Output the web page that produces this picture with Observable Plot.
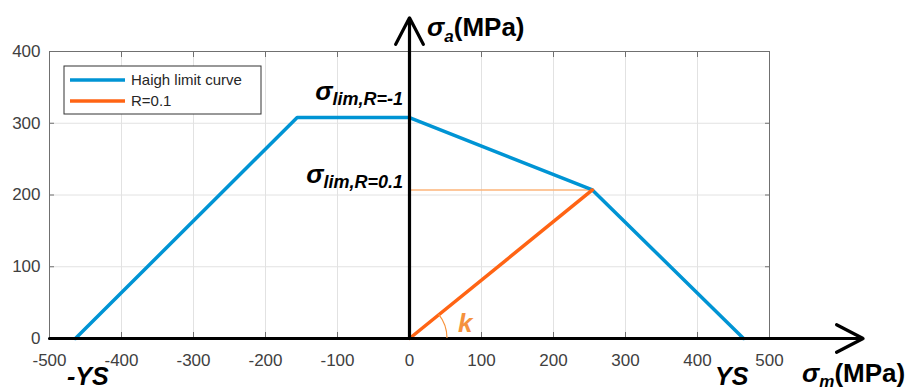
<!DOCTYPE html>
<html><head><meta charset="utf-8">
<script src="https://cdn.jsdelivr.net/npm/d3@7"></script>
<script src="https://cdn.jsdelivr.net/npm/@observablehq/plot@0.6"></script>
<style>body{margin:0;background:#fff} svg{display:block}</style>
</head><body><div id="chart"></div>
<script>
const xTicks = [-500,-400,-300,-200,-100,0,100,200,300,400,500];
const yTicks = [0,100,200,300,400];
const haighSigmaM = [-464,-156,0,254,464];
const haighSigmaA = [0,308,308,207,0];
const rSigmaM = [0,254];
const rSigmaA = [0,207];
const seriesNames = ["Haigh limit curve","R=0.1"];
const colors = ["#0094d4","#ff6414"];

const haigh = haighSigmaM.map((x,i)=>({x, y: haighSigmaA[i]}));
const rline = rSigmaM.map((x,i)=>({x, y: rSigmaA[i]}));
const font = "'Liberation Sans', Arial, sans-serif";
const fmt = d => String(d);

const plot = Plot.plot({
  width: 912, height: 391,
  marginLeft: 49, marginRight: 143, marginTop: 51, marginBottom: 53,
  style: {fontFamily: font, background: "white", overflow: "visible"},
  x: {domain: [-500,500]},
  y: {domain: [0,400]},
  marks: [
    Plot.gridX({ticks: xTicks, stroke:"#e2e2e2", strokeOpacity:1}),
    Plot.gridY({ticks: yTicks, stroke:"#e2e2e2", strokeOpacity:1}),
    Plot.frame({stroke:"#707070"}),
    Plot.axisX({ticks: xTicks, anchor:"top", tickSize:-5, tickFormat:()=>"", label:null, color:"#707070"}),
    Plot.axisX({ticks: xTicks, anchor:"bottom", tickSize:-6, tickFormat:()=>"", label:null, color:"#707070"}),
    Plot.axisY({ticks: yTicks, anchor:"right", tickSize:-5, tickFormat:()=>"", label:null, color:"#707070"}),
    Plot.axisY({ticks: yTicks, anchor:"left", tickSize:-5, tickFormat:()=>"", label:null, color:"#707070"}),
    Plot.axisX({ticks: xTicks, anchor:"bottom", tickSize:0, tickPadding:15, tickFormat: fmt, label:null, fontSize:17, color:"#404040"}),
    Plot.axisY({ticks: yTicks, anchor:"left", tickSize:0, tickPadding:9, tickFormat: fmt, label:null, fontSize:17, color:"#404040"}),
    Plot.ruleY(rline.slice(1), {y:"y", x1:0, x2:"x", stroke:"#fdb47a", strokeWidth:1.3}),
    Plot.line(haigh, {x:"x", y:"y", stroke: colors[0], strokeWidth:3.5}),
    Plot.line(rline, {x:"x", y:"y", stroke: colors[1], strokeWidth:3.5}),
    Plot.arrow([0], {x1:-500, y1:0, x2:630, y2:0, stroke:"black", strokeWidth:3.2, headLength:14, headAngle:55}),
    Plot.arrow([0], {x1:0, y1:0, x2:0, y2:447, stroke:"black", strokeWidth:3.2, headLength:14, headAngle:55})
  ]
});
document.getElementById("chart").appendChild(plot);

const svg = d3.select(plot);
const xs = plot.scale("x"), ys = plot.scale("y");
const x0 = xs.apply(0), y0 = ys.apply(0);

// angle arc k
const ang = Math.atan2(y0 - ys.apply(rSigmaA[1]), xs.apply(rSigmaM[1]) - x0);
const r = 38;
svg.append("path")
  .attr("d", `M${x0 + r},${y0} A${r},${r} 0 0 0 ${x0 + r*Math.cos(ang)},${y0 - r*Math.sin(ang)}`)
  .attr("fill","none").attr("stroke","#f7923a").attr("stroke-width",1.2);

function label(x, y, parts, anchor, fill) {
  const t = svg.append("text").attr("x", x).attr("y", y)
    .attr("font-family", font).attr("font-weight","bold")
    .attr("text-anchor", anchor || "start").attr("fill", fill || "black");
  for (const p of parts) {
    const s = t.append("tspan").text(p.t).attr("font-size", p.size);
    if (p.italic) s.attr("font-style","italic");
    if (p.dy) s.attr("dy", p.dy);
  }
  return t;
}
label(x0 + 18, 36, [{t:"σ",size:26,italic:true},{t:"a",size:17,italic:true,dy:6},{t:"(MPa)",size:26,dy:-6}]);
label(xs.apply(500) + 33, 382, [{t:"σ",size:26,italic:true},{t:"m",size:17,italic:true,dy:5},{t:"(MPa)",size:26,dy:-5}]);
label(x0 - 6, ys.apply(haighSigmaA[2]) - 17, [{t:"σ",size:26,italic:true},{t:"lim,R=-1",size:18,italic:true,dy:5}], "end");
label(x0 - 6, ys.apply(rSigmaA[1]) - 6, [{t:"σ",size:26,italic:true},{t:"lim,R=0.1",size:18,italic:true,dy:5}], "end");
label(xs.apply(haighSigmaM[0]) - 8, 385, [{t:"-YS",size:25,italic:true}]);
label(xs.apply(haighSigmaM[4]) - 28, 385, [{t:"YS",size:25,italic:true}]);
label(x0 + 49, y0 - 6, [{t:"k",size:26,italic:true}], "start", "#f5913d");

// legend
const lg = svg.append("g");
lg.append("rect").attr("x",64).attr("y",66).attr("width",197).attr("height",48)
  .attr("fill","white").attr("stroke","#333").attr("stroke-width",1);
seriesNames.forEach((n,i) => {
  const yy = 80 + i*21;
  lg.append("line").attr("x1",70).attr("x2",125).attr("y1",yy).attr("y2",yy)
    .attr("stroke",colors[i]).attr("stroke-width",3.5);
  lg.append("text").attr("x",131).attr("y",yy).attr("dy","0.35em")
    .attr("text-anchor","start")
    .attr("font-family",font).attr("font-size",15).attr("fill","#262626").text(n);
});
</script></body></html>
